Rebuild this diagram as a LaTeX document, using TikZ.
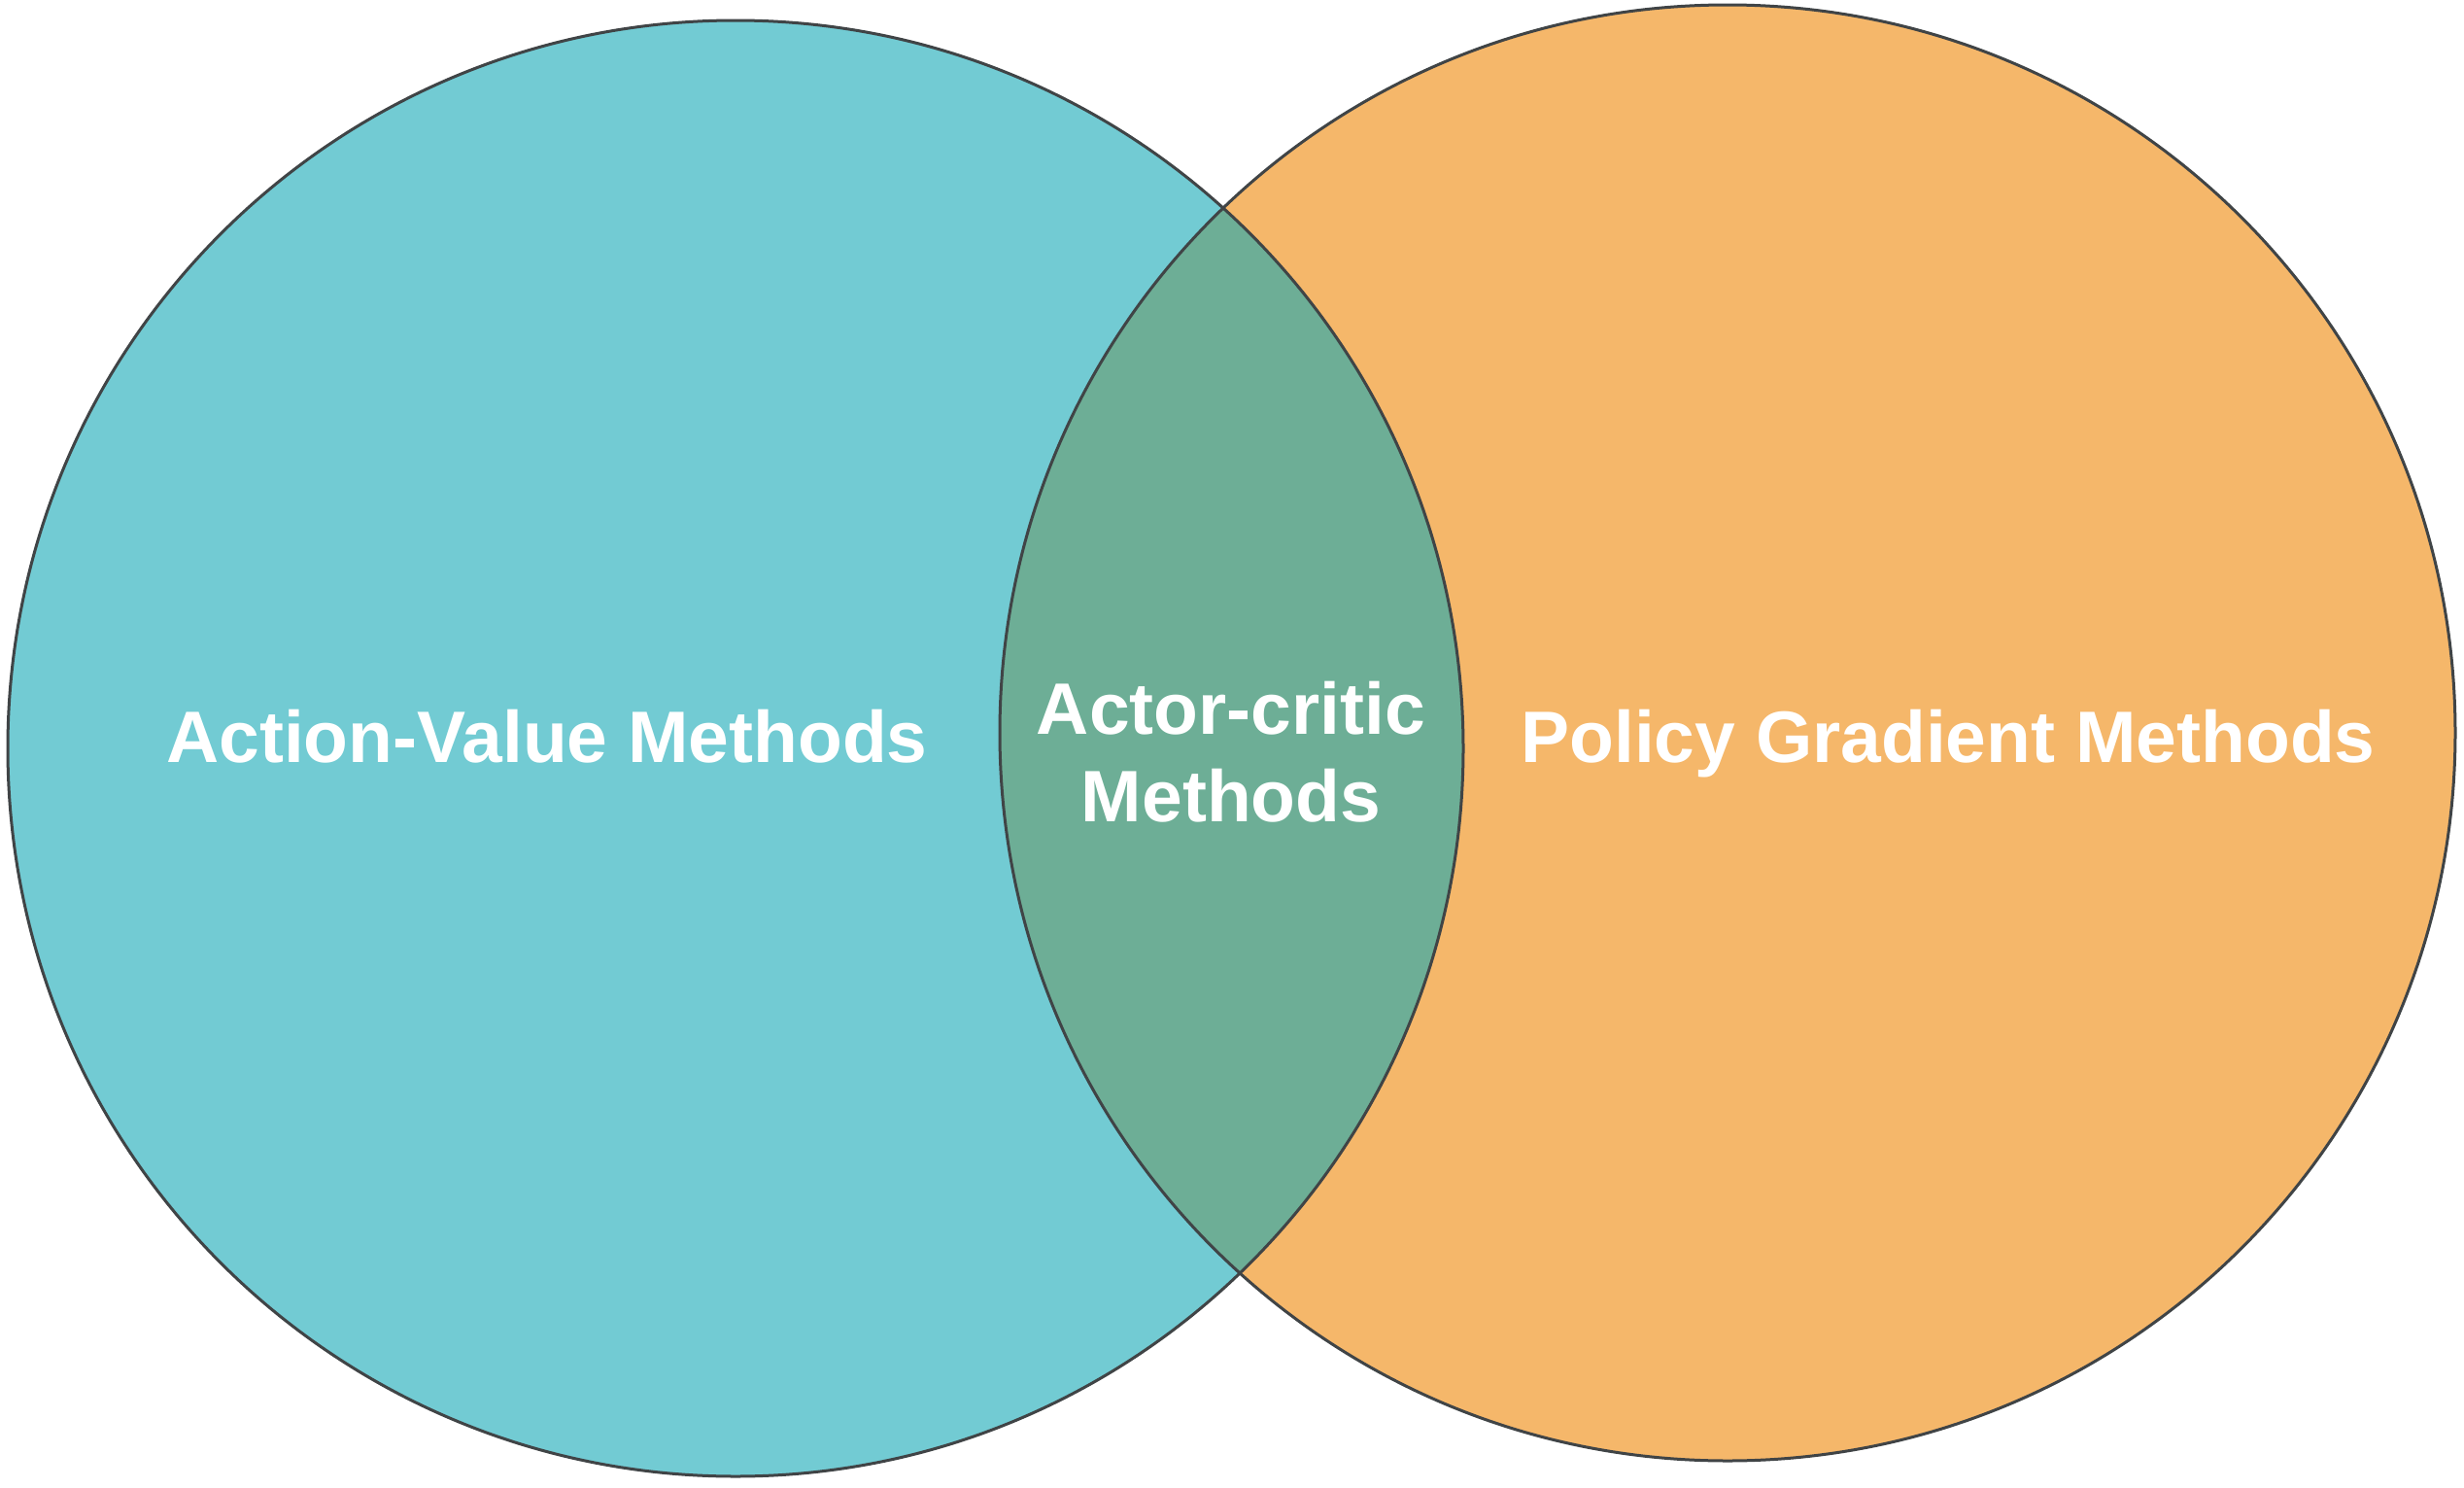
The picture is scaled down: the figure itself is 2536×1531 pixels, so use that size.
\documentclass[tikz,border=0pt]{standalone}
\usepackage{fontspec}
\setmainfont{Liberation Sans}
\definecolor{avteal}{RGB}{114,203,211}
\definecolor{pgorange}{RGB}{245,183,106}
\definecolor{acgreen}{RGB}{109,174,150}
\definecolor{rimgray}{RGB}{64,68,70}
\begin{document}
\begin{tikzpicture}[x=1pt,y=-1pt,
  rim/.style={draw=rimgray,line width=3pt},
  setlabel/.style={text=white,font=\fontsize{75}{90}\selectfont\bfseries,align=center,inner sep=0pt}]
\useasboundingbox (0,0) rectangle (2536,1531);
% the two method families
\fill[avteal] (757,770) circle[radius=749];
\fill[pgorange] (1778,754) circle[radius=749];
% their overlap
\begin{scope}
  \clip (757,770) circle[radius=749];
  \fill[acgreen] (1778,754) circle[radius=749];
\end{scope}
\draw[rim] (757,770) circle[radius=749];
\draw[rim] (1778,754) circle[radius=749];
% labels (base anchor sits on the last line)
\node[setlabel,anchor=base] (av) at (563,784) {Action-Value Methods};
\node[setlabel,anchor=base] (pg) at (2005,784) {Policy Gradient Methods};
\node[setlabel,anchor=base] (ac) at (1267,845) {Actor-critic\\Methods};
\end{tikzpicture}
\end{document}
